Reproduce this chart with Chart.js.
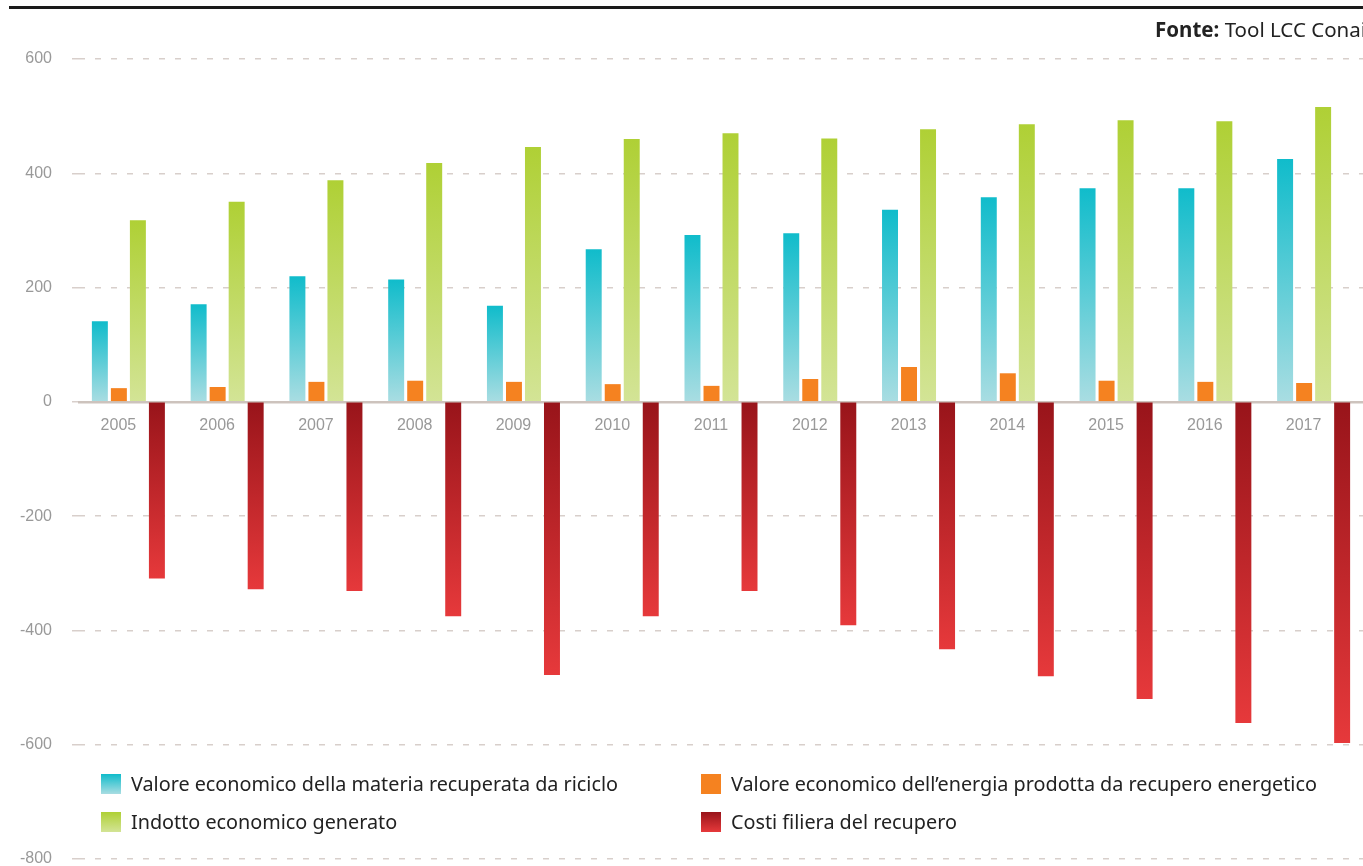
<!DOCTYPE html>
<html lang="it">
<head>
<meta charset="utf-8">
<title>Valore economico del recupero 2005-2017</title>
<script src="https://cdn.jsdelivr.net/npm/chart.js@4.4.1/dist/chart.umd.min.js"></script>
<style>
  html, body { margin: 0; padding: 0; background: #fff; }
  #wrap { position: relative; width: 1363px; height: 866px; overflow: hidden; }
  #topline { position: absolute; left: 9px; right: 0; top: 6px; height: 3px; background: #1a1a1a; }
  #source { position: absolute; right: -3px; top: 15px; font: 20.5px "Noto Sans", sans-serif; color: #222; white-space: nowrap; }
  #source b { font-weight: 700; }
  .legend-item { position: absolute; font: 19.8px "Noto Sans", sans-serif; color: #222; line-height: 22px; white-space: nowrap; }
  .legend-item span.box { position: absolute; left: -30px; top: 1px; width: 20px; height: 20px; }
</style>
</head>
<body>
<div id="wrap">
  <canvas id="chart" width="1363" height="866"></canvas>
  <div id="topline"></div>
  <div id="source"><b>Fonte:</b> Tool LCC Conai</div>
  <div id="legend"></div>
</div>
<script>
// ============================================================
// DATA
// ============================================================

const years = ['2005', '2006', '2007', '2008', '2009', '2010', '2011',
  '2012', '2013', '2014', '2015', '2016', '2017'];

const materiaRiciclo = [141, 171, 220, 214, 168, 267, 292, 295, 336, 358, 374, 374, 425];
const energiaRecupero = [24, 26, 35, 37, 35, 31, 28, 40, 61, 50, 37, 35, 33];
const indottoGenerato = [318, 350, 388, 418, 446, 460, 470, 461, 477, 486, 493, 491, 516];
const costiFiliera = [-309, -328, -331, -375, -478, -375, -331, -391, -433, -480, -520, -562, -597];

const yTicks = [600, 400, 200, 0, -200, -400, -600, -800];

// ============================================================
// COLOURS — [top of bar, bottom of bar]
// ============================================================

const cyanStops = ['#10bccb', '#a9dde2'];
const orangeStops = ['#f58220', '#f58220'];
const greenStops = ['#afd035', '#d3e496'];
const redStops = ['#98141a', '#e6393b'];

function barGradient(stops) {
  return (ctx) => {
    const chart = ctx.chart;
    if (!chart.chartArea || ctx.type !== 'data') return stops[0];
    const y = chart.scales.y;
    const pZero = y.getPixelForValue(0);
    const pVal = y.getPixelForValue(ctx.raw);
    const top = Math.min(pZero, pVal);
    const bottom = Math.max(pZero, pVal);
    if (bottom - top < 1) return stops[0];
    const g = chart.ctx.createLinearGradient(0, top, 0, bottom);
    g.addColorStop(0, stops[0]);
    g.addColorStop(1, stops[1]);
    return g;
  };
}

const series = [
  { label: 'Valore economico della materia recuperata da riciclo', data: materiaRiciclo, stops: cyanStops },
  { label: 'Valore economico dell\u2019energia prodotta da recupero energetico', data: energiaRecupero, stops: orangeStops },
  { label: 'Indotto economico generato', data: indottoGenerato, stops: greenStops },
  { label: 'Costi filiera del recupero', data: costiFiliera, stops: redStops }
];

// ============================================================
// CHART
// ============================================================

const tickFont = { family: '"Liberation Sans", Arial, sans-serif', size: 16 };

new Chart(document.getElementById('chart').getContext('2d'), {
  type: 'bar',
  data: {
    labels: years,
    datasets: series.map(s => ({
      label: s.label,
      data: s.data,
      backgroundColor: barGradient(s.stops),
      borderWidth: 0,
      categoryPercentage: 0.77,
      barPercentage: 0.84
    }))
  },
  options: {
    responsive: false,
    animation: false,
    layout: { padding: { top: 59, bottom: 7, left: 0, right: 0 } },
    plugins: {
      legend: { display: false },
      tooltip: { enabled: false }
    },
    scales: {
      x: {
        position: { y: 0 },
        grid: { display: false },
        border: { display: true, color: '#cdc3bd', width: 2.5 },
        ticks: { color: '#999', font: tickFont, padding: 6, labelOffset: -10, maxRotation: 0 }
      },
      y: {
        min: -800,
        max: 600,
        afterBuildTicks: axis => { axis.ticks = yTicks.map(v => ({ value: v })); },
        // fixed width; tick padding would otherwise also pad the top/bottom
        afterFit: axis => {
          axis.width = 79;
          axis.paddingTop = 0;
          axis.paddingBottom = 0;
        },
        border: { display: false, dash: [6, 10] },
        grid: { color: '#d8cfcb', lineWidth: 1.5, tickLength: 7, drawTicks: true },
        ticks: { color: '#999', font: tickFont, padding: 20 }
      }
    }
  }
});

// ============================================================
// LEGEND (HTML)
// ============================================================

const legendPos = [
  { left: 131, top: 773 },
  { left: 731, top: 773 },
  { left: 131, top: 811 },
  { left: 731, top: 811 }
];

const legendEl = document.getElementById('legend');
series.forEach((s, i) => {
  const item = document.createElement('div');
  item.className = 'legend-item';
  item.style.left = legendPos[i].left + 'px';
  item.style.top = legendPos[i].top + 'px';
  const box = document.createElement('span');
  box.className = 'box';
  box.style.background = `linear-gradient(${s.stops[0]}, ${s.stops[1]})`;
  item.appendChild(box);
  item.appendChild(document.createTextNode(s.label));
  legendEl.appendChild(item);
});
</script>
</body>
</html>
